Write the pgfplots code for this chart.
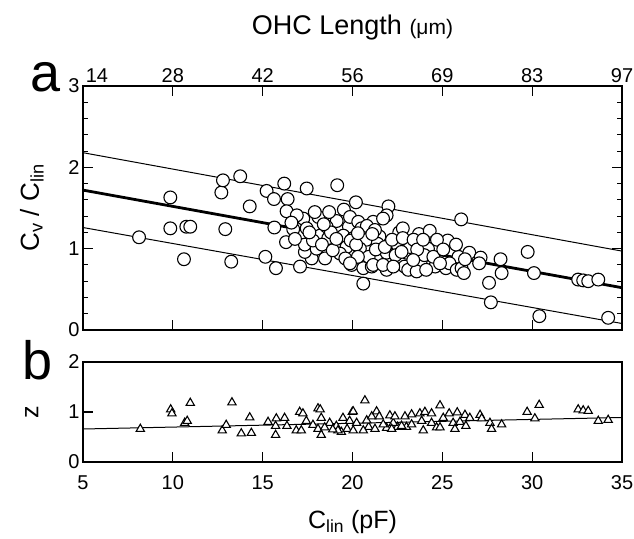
\documentclass[border=0pt]{standalone}
\usepackage{fontspec}
\setmainfont{Liberation Sans}
\usepackage{pgfplots}
\pgfplotsset{compat=1.18}
\pgfplotstableread{
x y
8.12 1.14
9.86 1.63
9.86 1.25
10.62 0.87
10.75 1.27
10.97 1.27
12.70 1.69
12.79 1.84
13.75 1.89
14.28 1.52
12.92 1.24
13.25 0.84
15.22 1.71
16.2 1.80
15.63 1.61
16.39 1.61
17.45 1.74
19.15 1.78
16.33 1.46
15.65 1.26
15.15 0.90
15.74 0.76
16.3 1.08
16.7 1.24
17.26 1.37
17.08 0.78
18.1 1.39
18.19 1.16
17.73 0.88
18.47 0.88
19.12 1.34
19.52 1.48
20.19 1.57
19.8 1.27
19.49 1.16
19.02 1.05
17.35 0.96
19.95 0.80
20.6 0.57
19.86 1.39
20.32 1.33
21.15 1.33
17.45 1.25
18.56 1.27
20.04 1.13
20.78 1.11
17.35 1.05
19.67 1.02
18.0 1.0
19.3 0.94
20.6 0.76
21.07 0.78
16.9 1.41
18.65 1.13
20.41 1.0
18.8 1.2
19.9 1.1
21.5 1.15
22.5 1.05
23.0 0.95
20.9 0.9
22.0 0.88
18.4 1.3
17.8 1.1
20.5 1.25
23.8 0.85
24.2 1.0
16.8 1.12
17.6 1.2
18.3 1.05
18.9 0.98
19.6 0.88
20.2 1.05
20.8 1.28
21.4 1.06
21.9 0.95
22.4 0.92
22.6 1.2
23.2 1.02
23.7 1.18
24.0 0.92
24.6 0.78
25.2 0.76
25.3 1.1
22.9 0.78
21.9 0.74
20.3 0.9
19.1 1.12
17.9 1.45
16.6 1.32
18.7 1.45
25.9 0.9
22.0 1.52
21.9 1.41
21.7 1.37
20.3 1.19
21.25 1.23
21.3 0.99
21.8 1.02
22.2 1.11
22.8 1.25
22.8 1.13
23.4 1.11
24.3 1.22
24.7 1.11
23.6 0.99
24.5 0.90
25.05 0.99
25.76 1.05
26.05 1.36
21.15 0.80
21.7 0.80
22.27 0.78
23.1 0.74
23.57 0.72
24.1 0.74
25.4 0.82
25.8 0.74
19.86 0.82
21.1 1.18
23.93 1.11
22.73 0.96
24.87 0.82
26.07 0.76
23.38 0.86
26.5 0.95
27.13 0.89
26.26 0.87
27.05 0.82
26.2 0.70
28.24 0.87
28.3 0.70
27.6 0.58
29.75 0.96
30.1 0.70
27.7 0.34
30.4 0.17
32.56 0.62
32.84 0.61
33.12 0.60
33.68 0.62
34.23 0.15
}\circdata
\pgfplotstableread{
x y
8.19 0.66
9.88 1.05
9.95 0.97
10.97 1.18
10.66 0.78
10.80 0.82
13.29 1.19
12.75 0.63
12.97 0.74
13.81 0.57
14.37 0.58
14.28 0.89
15.3 0.80
15.76 0.87
15.72 0.72
15.72 0.54
16.22 0.88
16.35 0.72
16.87 0.63
17.06 1.0
17.24 0.97
17.15 0.63
17.43 0.82
17.8 0.74
18.08 1.07
18.2 1.05
18.26 0.88
18.08 0.66
18.26 0.54
18.73 0.78
19.1 0.72
19.38 0.60
19.47 0.88
19.84 0.82
19.99 1.0
19.19 0.63
18.45 0.69
18.9 0.65
19.7 0.66
20.9 0.70
21.9 0.68
22.5 0.70
23.0 0.70
20.69 1.23
20.04 1.01
20.04 0.63
20.23 0.78
20.6 0.63
20.79 0.83
21.07 0.91
21.34 1.01
21.49 0.91
21.25 0.66
21.71 0.75
22.08 0.93
22.27 0.78
22.18 0.66
22.36 0.91
22.92 0.91
22.73 0.72
23.29 0.95
23.29 0.75
23.75 0.97
23.85 0.82
23.94 0.63
24.03 1.0
24.4 0.97
24.4 0.78
24.68 0.69
24.87 1.13
24.87 0.69
25.05 0.88
25.38 0.97
25.6 0.78
25.7 0.66
25.83 0.99
25.98 0.80
26.26 0.94
26.31 0.72
26.53 0.88
27.1 0.94
27.19 0.87
27.65 0.78
27.74 0.66
28.3 0.75
29.72 1.0
30.39 1.14
30.15 0.87
32.56 1.05
32.84 1.03
33.12 1.02
33.68 0.82
34.23 0.84
}\tridata
\begin{document}
\begin{tikzpicture}[x=1pt,y=1pt]
\useasboundingbox (-83pt,-208pt) rectangle (551pt,330pt);
\pgfplotsset{
  every axis/.append style={
    scale only axis, width=539pt, xmin=5, xmax=35,
    /pgf/number format/assume math mode=true,
    tick align=inside, major tick length=10pt, minor tick length=5pt,
    axis line style={line width=1.3pt},
    every tick/.style={line width=1.1pt, black},
    tick label style={font=\fontsize{20}{22}\selectfont},
    label style={font=\fontsize{25}{28}\selectfont},
  }
}
% panel a
\begin{axis}[at={(0pt,0pt)}, anchor=south west, height=244pt, ymin=0, ymax=3,
  xtick={10,15,...,30}, xticklabels={}, xtick pos=left,
  ytick={0,1,2,3}, minor ytick={0.2,0.4,0.6,0.8,1.2,1.4,1.6,1.8,2.2,2.4,2.6,2.8},
  ytick pos=both, yticklabel pos=left,
  ylabel={C\textsubscript{v} / C\textsubscript{lin}},
  ylabel style={at={(axis description cs:-0.095,0.5)}, anchor=center, font=\fontsize{26}{28}\selectfont},
]
\addplot[line width=1pt, black] coordinates {(5,2.18) (35,0.97)};
\addplot[line width=2.8pt, black] coordinates {(5,1.72) (35,0.52)};
\addplot[line width=1pt, black] coordinates {(5,1.26) (35,0.08)};
\addplot[only marks, mark=*, mark size=6.4pt, mark options={fill=white, draw=black, line width=1.1pt}] table[x=x,y=y] {\circdata};
\end{axis}
% top axis (OHC length)
\begin{axis}[at={(0pt,0pt)}, anchor=south west, height=244pt, ymin=0, ymax=3,
  axis x line*=top, axis y line=none,
  xtick={5,10,...,35},
  xticklabels={\hspace*{28pt}14,28,42,56,69,83,97},
  xlabel={OHC Length {\fontsize{21}{24}\selectfont(μm)}},
  xlabel style={at={(axis description cs:0.5,1.24)}, anchor=center, font=\fontsize{27}{30}\selectfont},
]
\end{axis}
% panel b
\begin{axis}[at={(0pt,-132pt)}, anchor=south west, height=100pt, ymin=0, ymax=2,
  ytick={0,1,2}, ytick pos=left,
  xtick={5,10,...,35}, xtick pos=left,
  xticklabel style={yshift=-10pt},
  xlabel={C\textsubscript{lin} (pF)},
  xlabel style={at={(axis description cs:0.5,-0.60)}, anchor=center},
  ylabel={z},
  ylabel style={at={(axis description cs:-0.095,0.5)}, anchor=center},
]
\addplot[line width=1pt, black] coordinates {(5,0.66) (35,0.89)};
\addplot[only marks, mark=triangle*, mark size=4.8pt, mark options={fill=white, draw=black, line width=1.1pt}] table[x=x,y=y] {\tridata};
\end{axis}
\node[font=\fontsize{54}{54}\selectfont] at (-37pt,253pt) {a};
\node[font=\fontsize{54}{54}\selectfont] at (-45pt,-30pt) {b};
\end{tikzpicture}
\end{document}
